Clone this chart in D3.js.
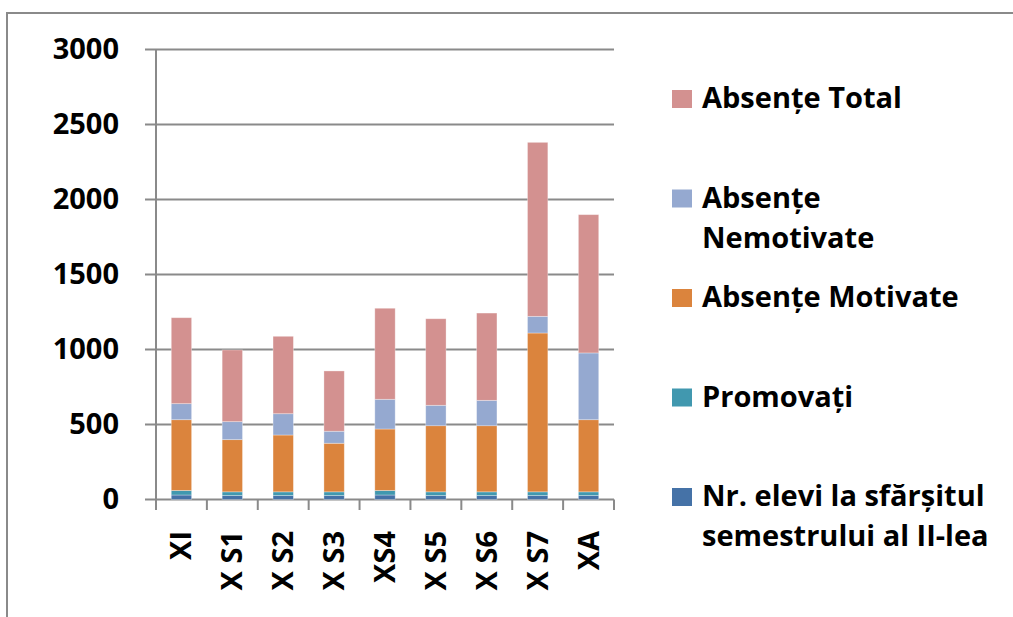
<!DOCTYPE html>
<meta charset="utf-8">
<style>
body { margin: 0; background: #fff; }
text { font-family: "Open Sans", sans-serif; font-weight: 700; fill: #000; }
.grid line { stroke: #8a8a8a; stroke-width: 2; }
</style>
<body>
<svg width="1013" height="617"></svg>
<script src="https://cdn.jsdelivr.net/npm/d3@7"></script>
<script>

// values
var classes = ["XI", "X S1", "X S2", "X S3", "XS4", "X S5", "X S6", "X S7", "XA"];
var elevi      = [30, 26, 26, 26, 30, 26, 26, 26, 26];
var promovati  = [30, 25, 25, 25, 30, 25, 25, 25, 25];
var motivate   = [472, 348, 379, 324, 410, 441, 441, 1059, 481];
var nemotivate = [107, 120, 142, 80, 198, 136, 169, 111, 445];
var total      = [573, 478, 516, 402, 607, 577, 582, 1160, 922];
var yTicks = [0, 500, 1000, 1500, 2000, 2500, 3000];

var keys = ["elevi", "promovati", "motivate", "nemotivate", "total"];
var colors = ["#4572A7", "#4198AF", "#DB843D", "#95A9D0", "#D39190"];
var legendLabels = [
  ["Nr. elevi la sfărșitul", "semestrului al II-lea"],
  ["Promovați"],
  ["Absențe Motivate"],
  ["Absențe", "Nemotivate"],
  ["Absențe Total"]
];

var rows = classes.map(function(c, i) {
  return { cls: c, elevi: elevi[i], promovati: promovati[i], motivate: motivate[i],
           nemotivate: nemotivate[i], total: total[i] };
});

var svg = d3.select("svg");

// outer frame (runs off the right and bottom edges)
svg.append("rect")
    .attr("x", 7).attr("y", 13)
    .attr("width", 1100).attr("height", 700)
    .attr("fill", "none")
    .attr("stroke", "#8a8a8a")
    .attr("stroke-width", 2);

var x = d3.scaleBand()
    .domain(classes)
    .range([156, 614]);

var y = d3.scaleLinear()
    .domain([0, 3000])
    .range([499.5, 49.5]);

var color = d3.scaleOrdinal().domain(keys).range(colors);

// gridlines + y ticks
var grid = svg.append("g").attr("class", "grid");
grid.selectAll("line")
  .data(yTicks)
  .enter().append("line")
    .attr("x1", 145)
    .attr("x2", 614)
    .attr("y1", function(d) { return y(d); })
    .attr("y2", function(d) { return y(d); });

svg.append("g")
  .selectAll("text")
  .data(yTicks)
  .enter().append("text")
    .attr("x", 119)
    .attr("y", function(d) { return y(d) + 9; })
    .attr("text-anchor", "end")
    .style("font-size", "29px")
    .text(function(d) { return d; });

// y axis line and x ticks
grid.append("line")
    .attr("x1", 156).attr("x2", 156)
    .attr("y1", y(3000)).attr("y2", 510);

grid.selectAll(".xtick")
  .data(classes.slice(1).concat(["end"]))
  .enter().append("line")
    .attr("class", "xtick")
    .attr("x1", function(d, i) { return 156 + x.step() * (i + 1); })
    .attr("x2", function(d, i) { return 156 + x.step() * (i + 1); })
    .attr("y1", y(0))
    .attr("y2", 510);

// stacked bars
var series = d3.stack().keys(keys)(rows);
var barW = x.bandwidth() * 0.4;

svg.append("g")
  .selectAll("g")
  .data(series)
  .enter().append("g")
    .attr("fill", function(d) { return color(d.key); })
  .selectAll("rect")
  .data(function(d) { return d; })
  .enter().append("rect")
    .attr("x", function(d) { return x(d.data.cls) + (x.bandwidth() - barW) / 2; })
    .attr("width", barW)
    .attr("y", function(d) { return y(d[1]); })
    .attr("height", function(d) { return y(d[0]) - y(d[1]); })
    .attr("stroke", "#ffffff")
    .attr("stroke-opacity", 0.4)
    .attr("stroke-width", 0.8);

// x labels, rotated
svg.append("g")
  .selectAll("text")
  .data(classes)
  .enter().append("text")
    .attr("transform", function(d) {
      return "translate(" + (x(d) + x.bandwidth() / 2 + 10) + ",531) rotate(-90)";
    })
    .attr("text-anchor", "end")
    .style("font-size", "29px")
    .text(function(d) { return d; });

// legend, top item is the last series
var legend = svg.append("g")
  .selectAll("g")
  .data(keys.slice().reverse())
  .enter().append("g")
    .attr("transform", function(d, i) { return "translate(672," + (108 + i * 99.5) + ")"; });

legend.append("rect")
    .attr("x", 0).attr("y", -18)
    .attr("width", 20).attr("height", 18)
    .attr("fill", function(d) { return color(d); });

legend.append("text")
    .attr("x", 30)
    .style("font-size", "29px")
    .selectAll("tspan")
    .data(function(d) { return legendLabels[keys.indexOf(d)]; })
    .enter().append("tspan")
      .attr("x", 30)
      .attr("dy", function(d, i) { return i ? 40 : 0; })
      .text(function(d) { return d; });

</script>
</body>
